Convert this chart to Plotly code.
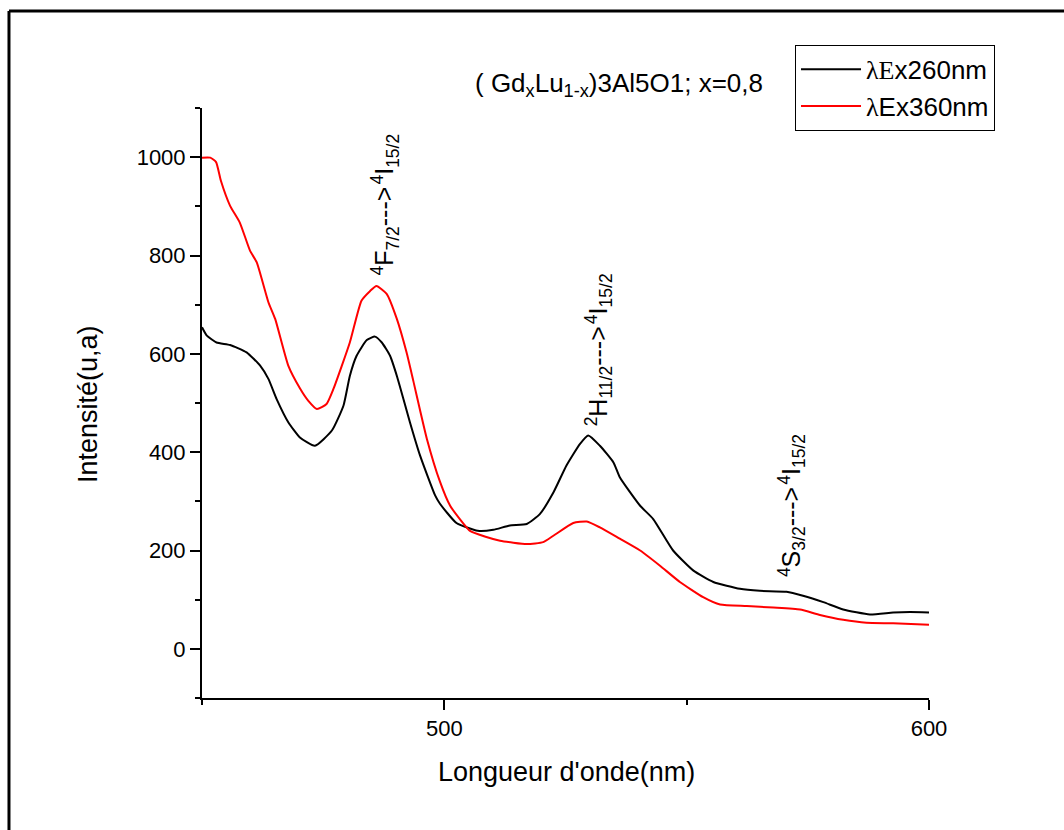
import plotly.graph_objects as go

# ---- data ----
x_260 = [450, 451, 453, 455.8, 459.2, 462, 463.7, 465.4, 467.8, 470.2, 473.3, 476.8,
         479.2, 480.5, 481.9, 484, 485.7, 487.1, 488.8, 490.3, 492.9, 495, 498.1,
         499.1, 502.5, 506.9, 510.1, 513.5, 517, 519.7, 522.5, 525.2, 528, 529.7,
         532.1, 534.9, 536.2, 540.4, 543.1, 547.2, 551.4, 555.5, 561, 565.1, 570.6,
         574, 578.2, 582.3, 587.8, 592.6, 596.1, 600]
y_260 = [654, 637, 623, 618, 603, 576, 549, 508, 461, 430, 413, 444,
         495, 555, 596, 628, 635, 623, 596, 552, 461, 393, 312,
         295, 256, 240, 242, 251, 254, 274, 318, 373, 417, 434,
         413, 379, 349, 291, 264, 200, 159, 136, 122, 118, 116,
         108, 95, 80, 70, 74, 75, 74]

x_360 = [450, 451.7, 452.9, 453.9, 455.8, 457.8, 459.9, 461.3, 463.7, 465.1, 467.8,
         470.2, 471.9, 473.7, 475.7, 477.1, 480.5, 482.9, 484.7, 486, 488.1, 490.2,
         492.2, 493.6, 496.4, 499.1, 501.2, 503.2, 505.3, 508.5, 511.5, 517, 520.4,
         522.5, 526.6, 529.4, 532.1, 536.2, 540.4, 544.5, 548.6, 553.4, 556.9, 562.4,
         567.9, 573.4, 577.5, 582.3, 587.1, 592.6, 600]
y_360 = [999, 999, 990, 952, 901, 867, 810, 786, 705, 671, 576,
         530, 505, 488, 498, 528, 623, 708, 728, 738, 722, 671,
         603, 545, 427, 340, 291, 264, 240, 228, 220, 213, 217,
         230, 256, 259, 247, 224, 200, 169, 136, 105, 90, 87,
         84, 80, 69, 59, 53, 52, 49]

x_major = [500, 600]
x_minor = [450, 550]
y_major = [0, 200, 400, 600, 800, 1000]
y_minor = [-100, 100, 300, 500, 700, 900, 1100]

FONT = "Arial, 'Liberation Sans', sans-serif"
SERIF = "'Liberation Serif', 'Times New Roman', serif"

fig = go.Figure()
fig.add_trace(go.Scatter(
    x=x_260, y=y_260, mode="lines",
    line=dict(color="black", width=2, shape="spline", smoothing=0.5),
    name=f"<span style=\"font-family:{SERIF}\">λE</span>x260nm"))
fig.add_trace(go.Scatter(
    x=x_360, y=y_360, mode="lines",
    line=dict(color="#ff0000", width=2, shape="spline", smoothing=0.5),
    name=f"<span style=\"font-family:{SERIF}\">λ</span>Ex360nm"))

axis_common = dict(showgrid=False, zeroline=False, showline=True, linecolor="black",
                   linewidth=2, ticks="outside", ticklen=10, tickwidth=2,
                   tickcolor="black", tickfont=dict(family=FONT, size=22, color="black"))

fig.update_xaxes(range=[450, 600], tickmode="array", tickvals=x_major,
                 minor=dict(tickmode="array", tickvals=x_minor, ticks="outside",
                            ticklen=5, tickwidth=2, tickcolor="black"),
                 **axis_common)
fig.update_yaxes(range=[-100, 1100], tickmode="array", tickvals=y_major,
                 minor=dict(tickmode="array", tickvals=y_minor, ticks="outside",
                            ticklen=5, tickwidth=2, tickcolor="black"),
                 **axis_common)

annots = [
    dict(x=-0.157, y=0.498, xref="paper", yref="paper", xanchor="center", yanchor="middle",
         text="Intensité(u,a)", textangle=-90, showarrow=False,
         font=dict(family=FONT, size=27, color="black")),
    dict(x=0.5007, y=-0.125, xref="paper", yref="paper", xanchor="center", yanchor="middle",
         text="Longueur d'onde(nm)", showarrow=False,
         font=dict(family=FONT, size=27, color="black")),
    dict(x=0.5736, y=1.04, xref="paper", yref="paper", xanchor="center", yanchor="middle",
         text="( Gd<sub>x</sub>Lu<sub>1-x</sub>)3Al5O1; x=0,8",
         showarrow=False, font=dict(family=FONT, size=26, color="black")),
    dict(x=487.8, y=904, xref="x", yref="y", xanchor="center", yanchor="middle",
         text="<sup>4</sup>F<sub>7/2</sub>--->&#8202;<sup>4</sup>I<sub>15/2</sub>",
         textangle=-90, showarrow=False, font=dict(family=FONT, size=25, color="black")),
    dict(x=531.8, y=608, xref="x", yref="y", xanchor="center", yanchor="middle",
         text="<sup>2</sup>H<sub>11/2</sub>--->&#8202;<sup>4</sup>I<sub>15/2</sub>",
         textangle=-90, showarrow=False, font=dict(family=FONT, size=25, color="black")),
    dict(x=571.6, y=291, xref="x", yref="y", xanchor="center", yanchor="middle",
         text="<sup>4</sup>S<sub>3/2</sub>--->&#8202;<sup>4</sup>I<sub>15/2</sub>",
         textangle=-90, showarrow=False, font=dict(family=FONT, size=25, color="black")),
]

shapes = [
    dict(type="line", xref="paper", yref="paper", x0=-0.2655, x1=-0.2655,
         y0=1.1644, y1=-0.3, line=dict(color="black", width=3)),
    dict(type="line", xref="paper", yref="paper", x0=-0.2655, x1=1.2,
         y0=1.1644, y1=1.1644, line=dict(color="black", width=3)),
]

fig.update_layout(
    width=1064, height=830,
    margin=dict(l=202, r=135, t=108, b=132),
    paper_bgcolor="white", plot_bgcolor="white",
    font=dict(family=FONT, size=20, color="black"),
    showlegend=True,
    legend=dict(x=0.8157, y=1.107, xanchor="left", yanchor="top",
                bordercolor="black", borderwidth=1, bgcolor="white",
                font=dict(family=FONT, size=26, color="black"),
                tracegroupgap=0, itemwidth=60),
    annotations=annots,
    shapes=shapes,
)

fig.write_html("out.html")
